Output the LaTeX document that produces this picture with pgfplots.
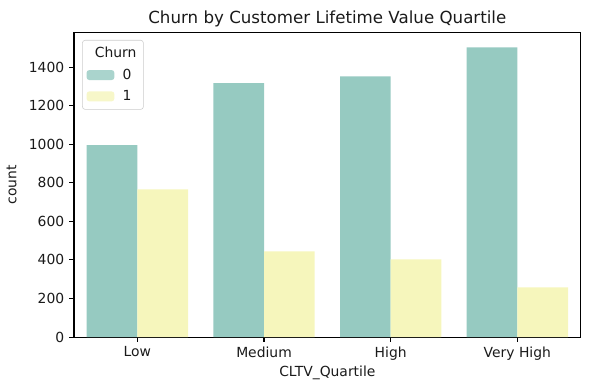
\documentclass[border=0pt]{standalone}
\usepackage{fontspec}
\setmainfont{DejaVu Sans}
\usepackage{pgfplots}
\pgfplotsset{compat=1.18}
\definecolor{teal0}{HTML}{96CAC1}
\definecolor{yel1}{HTML}{F6F6BC}
\definecolor{txt}{HTML}{1A1A1A}
\begin{document}
\begin{tikzpicture}
\begin{axis}[
  scale only axis,
  width=364.8pt, height=219.4pt,
  xmin=-0.5, xmax=3.5,
  ymin=0, ymax=1580,
  xtick={0,1,2,3},
  xticklabels={Low,Medium,High,Very High},
  ytick={0,200,400,600,800,1000,1200,1400},
  tick align=outside,
  major tick length=3.5pt,
  xtick pos=bottom, ytick pos=left,
  axis line style={line width=0.8pt, black},
  tick style={line width=0.8pt, black},
  /pgf/number format/assume math mode=true,
  /pgf/number format/1000 sep={},
  ticklabel style={font=\fontsize{10pt}{12pt}\selectfont, text=txt},
  xlabel={CLTV\_Quartile},
  ylabel={count},
  label style={font=\fontsize{10pt}{12pt}\selectfont, text=txt},
  title={Churn by Customer Lifetime Value Quartile},
  title style={font=\fontsize{12pt}{14pt}\selectfont, text=txt, yshift=-6pt},
  ylabel style={yshift=2pt},
  xlabel style={yshift=3pt},
  ybar=0pt,
  bar width=0.4,
  legend cell align=left,
  legend style={at={(0.016,0.975)}, anchor=north west, draw=black!20, rounded corners=2pt,
    fill=white, fill opacity=0.8, text opacity=1,
    font=\fontsize{10pt}{12pt}\selectfont, text=txt,
    row sep=2.5pt, inner xsep=3pt, inner ysep=3pt},
  legend image code/.code={\fill[#1] (0pt,-3.6pt) rectangle (20pt,3.6pt);},
]
\addlegendimage{empty legend}
\addlegendentry{\hspace{-16pt}Churn}
\addplot[fill=teal0, draw=none, bar shift=-0.2] coordinates {(0,995) (1,1317) (2,1352) (3,1502)};
\addlegendentry{\hspace{4pt}0}
\addplot[fill=yel1, draw=none, bar shift=0.2] coordinates {(0,766) (1,445) (2,403) (3,258)};
\addlegendentry{\hspace{4pt}1}
\end{axis}
\pgfresetboundingbox
\useasboundingbox ([xshift=-53.3pt,yshift=-38.2pt]current axis.south west) rectangle ([xshift=6.7pt,yshift=23.3pt]current axis.north east);
\end{tikzpicture}
\end{document}
